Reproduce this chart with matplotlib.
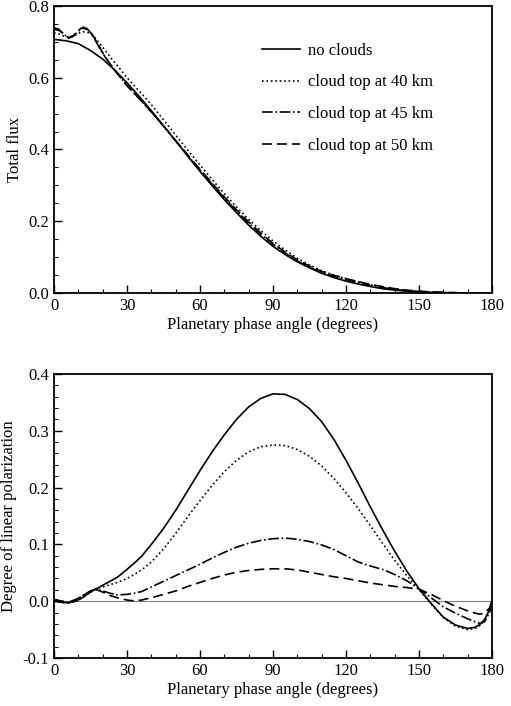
import numpy as np
import matplotlib.pyplot as plt
from matplotlib.ticker import MultipleLocator, FormatStrFormatter

plt.rcParams['font.family'] = ['Liberation Serif', 'DejaVu Serif']
plt.rcParams['font.size'] = 12

# ---- total flux (top panel) ----
flux_ang = [0, 5, 10, 15, 20, 25, 30, 35, 40, 45, 50, 55, 60, 65, 70, 75, 80, 85, 90,
            95, 100, 105, 110, 115, 120, 125, 130, 135, 140, 145, 150, 155, 160, 170, 180]
flux_clear = [0.707, 0.703, 0.695, 0.676, 0.652, 0.621, 0.586, 0.548, 0.508, 0.466, 0.424,
              0.381, 0.339, 0.299, 0.260, 0.224, 0.189, 0.158, 0.130, 0.107, 0.087, 0.070,
              0.055, 0.043, 0.033, 0.025, 0.018, 0.012, 0.008, 0.005, 0.003, 0.002, 0.001,
              0.0, 0.0]

cloud_ang = [0, 2, 4, 6, 8, 10, 12, 14, 16, 18, 20, 22, 24, 26, 28, 30, 35, 40, 45, 50, 55,
             60, 65, 70, 75, 80, 85, 90, 95, 100, 105, 110, 115, 120, 125, 130, 135, 140,
             145, 150, 155, 160, 170, 180]
flux_40 = [0.725, 0.722, 0.716, 0.712, 0.716, 0.724, 0.728, 0.726, 0.718, 0.702, 0.685,
           0.668, 0.650, 0.634, 0.617, 0.600, 0.563, 0.525, 0.483, 0.440, 0.398, 0.357,
           0.316, 0.277, 0.240, 0.205, 0.174, 0.145, 0.120, 0.097, 0.078, 0.062, 0.050,
           0.040, 0.031, 0.023, 0.016, 0.011, 0.007, 0.004, 0.002, 0.001, 0.0, 0.0]
flux_45 = [0.740, 0.735, 0.722, 0.710, 0.716, 0.730, 0.738, 0.734, 0.716, 0.692, 0.668,
           0.648, 0.630, 0.612, 0.595, 0.578, 0.542, 0.505, 0.465, 0.424, 0.383, 0.343,
           0.303, 0.265, 0.229, 0.195, 0.164, 0.136, 0.111, 0.089, 0.072, 0.057, 0.046,
           0.037, 0.029, 0.021, 0.015, 0.010, 0.006, 0.004, 0.002, 0.001, 0.0, 0.0]
flux_50 = [0.735, 0.732, 0.722, 0.712, 0.718, 0.733, 0.741, 0.736, 0.718, 0.694, 0.670,
           0.649, 0.630, 0.612, 0.595, 0.578, 0.542, 0.505, 0.466, 0.425, 0.385, 0.345,
           0.306, 0.268, 0.232, 0.198, 0.167, 0.138, 0.114, 0.092, 0.075, 0.060, 0.049,
           0.040, 0.032, 0.024, 0.018, 0.012, 0.008, 0.005, 0.003, 0.0015, 0.0003, 0.0]

# ---- degree of linear polarization (bottom panel) ----
pol_ang = [0, 3, 6, 9, 12, 15, 17, 20, 23, 26, 30, 33, 36, 40, 45, 50, 55, 60, 65, 70, 75,
           80, 85, 90, 95, 100, 105, 110, 115, 120, 125, 130, 135, 140, 145, 150, 155, 160,
           165, 170, 173, 175, 177, 179, 180]
pol_clear = [0.0, -0.002, -0.003, 0.0, 0.007, 0.016, 0.021, 0.028, 0.035, 0.042, 0.056,
             0.067, 0.079, 0.100, 0.128, 0.160, 0.195, 0.230, 0.263, 0.293, 0.320, 0.342,
             0.357, 0.365, 0.364, 0.355, 0.339, 0.316, 0.285, 0.248, 0.208, 0.166, 0.126,
             0.088, 0.053, 0.022, -0.004, -0.028, -0.042, -0.048, -0.046, -0.041, -0.032,
             -0.015, 0.0]
pol_40 = [0.0, -0.002, -0.003, 0.0, 0.007, 0.016, 0.021, 0.025, 0.029, 0.033, 0.040, 0.047,
          0.055, 0.069, 0.092, 0.119, 0.149, 0.177, 0.204, 0.228, 0.248, 0.263, 0.272,
          0.275, 0.274, 0.267, 0.255, 0.238, 0.216, 0.191, 0.163, 0.133, 0.102, 0.072,
          0.045, 0.020, -0.005, -0.029, -0.044, -0.050, -0.048, -0.043, -0.034, -0.016, 0.0]
pol_45 = [0.003, 0.0, -0.002, 0.003, 0.010, 0.018, 0.021, 0.018, 0.014, 0.011, 0.012, 0.014,
          0.017, 0.025, 0.035, 0.045, 0.055, 0.065, 0.076, 0.086, 0.095, 0.102, 0.107,
          0.110, 0.111, 0.109, 0.105, 0.099, 0.091, 0.080, 0.069, 0.062, 0.056, 0.047,
          0.036, 0.022, 0.006, -0.010, -0.021, -0.031, -0.036, -0.039, -0.036, -0.020, 0.0]
pol_50 = [0.003, 0.0, -0.002, 0.003, 0.010, 0.018, 0.021, 0.016, 0.010, 0.006, 0.002, 0.0005,
          0.002, 0.006, 0.012, 0.018, 0.026, 0.033, 0.040, 0.046, 0.051, 0.054, 0.056,
          0.057, 0.057, 0.055, 0.051, 0.047, 0.043, 0.040, 0.036, 0.032, 0.029, 0.026,
          0.024, 0.021, 0.012, 0.001, -0.009, -0.017, -0.021, -0.023, -0.021, -0.012, 0.0]

labels = ['no clouds', 'cloud top at 40 km', 'cloud top at 45 km', 'cloud top at 50 km']
styles = ['-', ':', '-.', (0, (6, 3))]

fig = plt.figure(figsize=(5.11, 7.06), dpi=100)
ax1 = fig.add_axes([0.1057, 0.585, 0.8571, 0.4065])
ax2 = fig.add_axes([0.1057, 0.068, 0.8571, 0.4023])

lw = 1.2
ax1.plot(flux_ang, flux_clear, color='black', ls=styles[0], lw=lw, label=labels[0])
ax1.plot(cloud_ang, flux_40, color='black', ls=styles[1], lw=lw, label=labels[1])
ax1.plot(cloud_ang, flux_45, color='black', ls=styles[2], lw=lw, label=labels[2])
ax1.plot(cloud_ang, flux_50, color='black', ls=styles[3], lw=lw, label=labels[3])

ax2.axhline(0, color='gray', lw=0.8)
ax2.plot(pol_ang, pol_clear, color='black', ls=styles[0], lw=lw)
ax2.plot(pol_ang, pol_40, color='black', ls=styles[1], lw=lw)
ax2.plot(pol_ang, pol_45, color='black', ls=styles[2], lw=lw)
ax2.plot(pol_ang, pol_50, color='black', ls=styles[3], lw=lw)

ax1.set_ylim(0, 0.8)
ax1.yaxis.set_major_locator(MultipleLocator(0.2))
ax1.yaxis.set_minor_locator(MultipleLocator(0.05))
ax1.set_ylabel('Total flux')

ax2.set_ylim(-0.1, 0.4)
ax2.yaxis.set_major_locator(MultipleLocator(0.1))
ax2.yaxis.set_minor_locator(MultipleLocator(0.02))
ax2.set_ylabel('Degree of linear polarization')

for ax in (ax1, ax2):
    ax.set_xlim(0, 180)
    ax.xaxis.set_major_locator(MultipleLocator(30))
    ax.xaxis.set_minor_locator(MultipleLocator(10))
    ax.yaxis.set_major_formatter(FormatStrFormatter('%.1f'))
    ax.set_xlabel('Planetary phase angle (degrees)', labelpad=2)
    ax.tick_params(which='both', direction='in', top=False, right=False)
    ax.tick_params(which='major', length=6, width=1.0)
    ax.tick_params(which='minor', length=3, width=0.8)
    for s in ax.spines.values():
        s.set_linewidth(1.3)

ax1.legend(loc='upper left', bbox_to_anchor=(0.44, 0.925), frameon=False,
           handlelength=2.3, labelspacing=0.95, handletextpad=0.5)

fig.savefig('out.png', dpi=100)
